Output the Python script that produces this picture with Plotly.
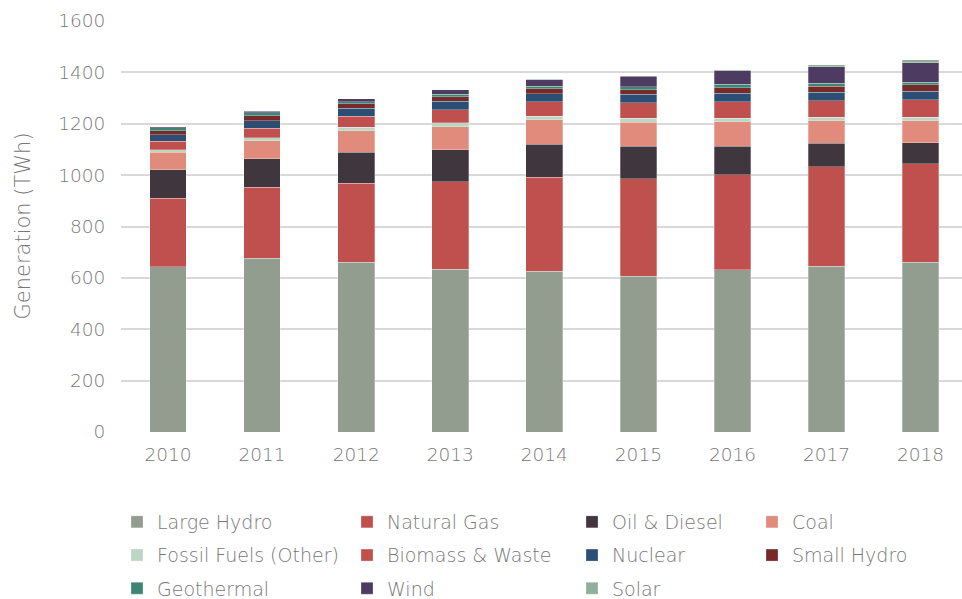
import plotly.graph_objects as go

years = ["2010", "2011", "2012", "2013", "2014", "2015", "2016", "2017", "2018"]

large_hydro = [644, 676, 660, 633, 626, 607, 632, 645, 661]
natural_gas = [266, 276, 309, 341, 365, 378, 369, 388, 383]
oil_diesel = [111, 111, 121, 125, 130, 127, 112, 92, 82]
coal = [68, 70, 82, 90, 94, 94, 94, 86, 85]
fossil_other = [9, 12, 14, 14, 14, 15, 14, 14, 14]
biomass_waste = [34, 37, 43, 51, 57, 60, 64, 64, 68]
nuclear = [25, 30, 31, 34, 30, 34, 34, 34, 34]
small_hydro = [16, 20, 17, 18, 20, 18, 22, 23, 24]
geothermal = [11, 11, 9, 9, 10, 12, 13, 12, 11]
wind = [4, 6, 11, 17, 26, 40, 52, 64, 75]
solar = [1, 1, 1, 1, 1, 2, 5, 8, 13]

y_ticks = [0, 200, 400, 600, 800, 1000, 1200, 1400, 1600]
y_title = "Generation (TWh)"

series = [
    ("Large Hydro", large_hydro, "#939D8F", "legend"),
    ("Natural Gas", natural_gas, "#C0504D", "legend2"),
    ("Oil & Diesel", oil_diesel, "#40363E", "legend3"),
    ("Coal", coal, "#E08B7B", "legend4"),
    ("Fossil Fuels (Other)", fossil_other, "#BDD5C3", "legend"),
    ("Biomass & Waste", biomass_waste, "#C0504D", "legend2"),
    ("Nuclear", nuclear, "#2C4E74", "legend3"),
    ("Small Hydro", small_hydro, "#772A28", "legend4"),
    ("Geothermal", geothermal, "#3F8575", "legend"),
    ("Wind", wind, "#4E3B61", "legend2"),
    ("Solar", solar, "#8FAF9C", "legend3"),
]

FONT = "DejaVu Sans"
TXT = "#777777"

fig = go.Figure()
for name, vals, color, lg in series:
    fig.add_trace(go.Bar(
        x=years, y=vals, name=name,
        marker=dict(color=color, line=dict(color="rgba(255,255,255,0.35)", width=0.8)),
        width=0.39, legend=lg, legendgroup=name,
    ))

W, H = 962, 599
ML, MT, MB = 121, 21, 167
plot_w = W - ML
leg_common = dict(
    orientation="v", traceorder="grouped", tracegroupgap=5.5,
    xref="container", yref="container", xanchor="left", yanchor="top",
    bgcolor="rgba(0,0,0,0)", borderwidth=0, itemwidth=30,
    font=dict(family=FONT, size=19, color=TXT, weight=200),
)
col_x = [117, 347, 572, 752]
leg_top = 503

fig.update_layout(
    width=W, height=H,
    margin=dict(l=ML, r=0, t=MT, b=MB, autoexpand=False),
    paper_bgcolor="white", plot_bgcolor="white",
    barmode="stack", bargap=0.61,
    font=dict(family=FONT, size=18, color=TXT, weight=200),
    legend=dict(x=col_x[0] / W, y=1 - leg_top / H, **leg_common),
    legend2=dict(x=col_x[1] / W, y=1 - leg_top / H, **leg_common),
    legend3=dict(x=col_x[2] / W, y=1 - leg_top / H, **leg_common),
    legend4=dict(x=col_x[3] / W, y=1 - leg_top / H, **leg_common),
    xaxis=dict(
        type="category", range=[-0.5, 8.44], showgrid=False, zeroline=False,
        showline=False, ticks="outside", ticklen=6, tickcolor="rgba(0,0,0,0)",
        tickfont=dict(family=FONT, size=18.5, color=TXT, weight=200),
    ),
    yaxis=dict(
        range=[0, 1600], tickvals=y_ticks, ticktext=[str(v) for v in y_ticks],
        showgrid=True, gridcolor="#D9D9D9", gridwidth=1.5,
        zeroline=False, showline=False,
        ticks="outside", ticklen=11, tickcolor="rgba(0,0,0,0)",
        tickfont=dict(family=FONT, size=18.5, color=TXT, weight=200),
    ),
    annotations=[dict(
        text=y_title, textangle=-90, showarrow=False,
        xref="paper", yref="paper", x=(22 - ML) / plot_w, y=0.5,
        xanchor="center", yanchor="middle",
        font=dict(family=FONT, size=21, color=TXT, weight=200),
    )],
)

fig.write_html("out.html", config={"displayModeBar": False},
               post_script="document.body.style.margin='0';")
